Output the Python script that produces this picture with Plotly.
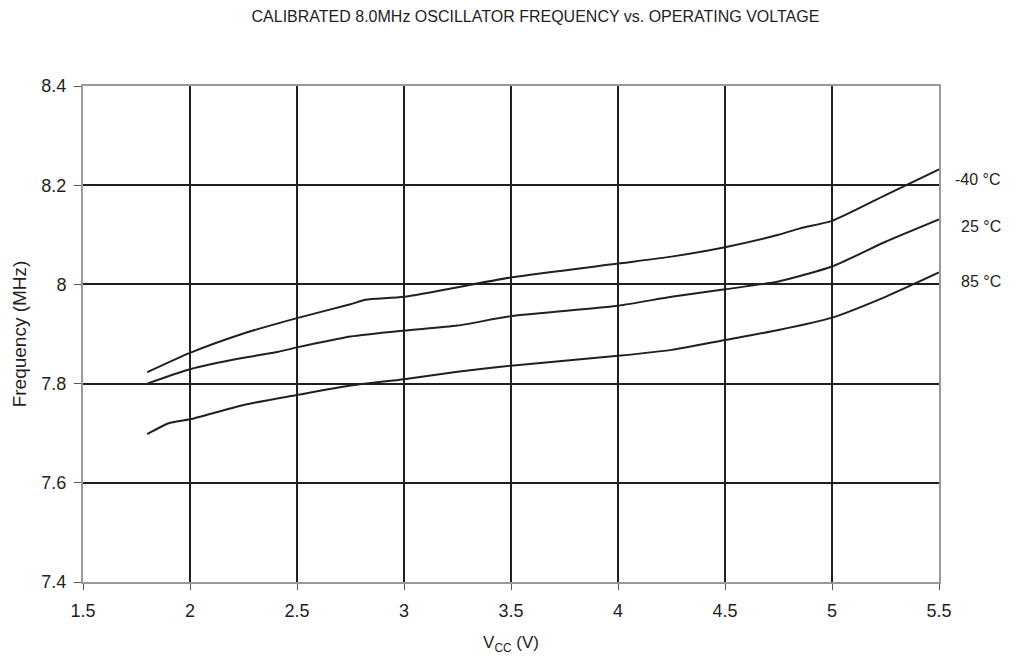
import plotly.graph_objects as go

vcc_m40 = [1.8, 2.0, 2.25, 2.5, 2.75, 2.82, 3.0, 3.5, 4.0, 4.25, 4.5, 4.75, 4.85, 5.0, 5.25, 5.5]
f_m40 = [7.823, 7.862, 7.901, 7.932, 7.960, 7.969, 7.975, 8.014, 8.042, 8.056, 8.075, 8.100, 8.113, 8.128, 8.180, 8.232]

vcc_25 = [1.8, 2.0, 2.25, 2.4, 2.5, 2.75, 3.0, 3.25, 3.5, 4.0, 4.25, 4.5, 4.75, 5.0, 5.25, 5.5]
f_25 = [7.800, 7.829, 7.852, 7.863, 7.873, 7.895, 7.907, 7.917, 7.936, 7.957, 7.975, 7.990, 8.006, 8.036, 8.086, 8.131]

vcc_85 = [1.8, 1.9, 2.0, 2.25, 2.5, 2.75, 3.0, 3.25, 3.5, 4.0, 4.25, 4.5, 4.75, 5.0, 5.25, 5.5]
f_85 = [7.698, 7.720, 7.728, 7.757, 7.777, 7.796, 7.809, 7.824, 7.836, 7.856, 7.868, 7.888, 7.908, 7.933, 7.975, 8.024]

series = [("-40 °C", vcc_m40, f_m40, 8.2125), ("25 °C", vcc_25, f_25, 8.116), ("85 °C", vcc_85, f_85, 8.005)]

x_ticks = [1.5, 2, 2.5, 3, 3.5, 4, 4.5, 5, 5.5]
y_ticks = [7.4, 7.6, 7.8, 8.0, 8.2, 8.4]
y_ticklabels = ["7.4", "7.6", "7.8", "8", "8.2", "8.4"]

FONT = "Liberation Sans, Arial, sans-serif"
INK = "#231f20"

fig = go.Figure()
for name, xs, ys, ly in series:
    fig.add_trace(go.Scatter(x=xs, y=ys, mode="lines", name=name,
                             line=dict(color=INK, width=2, shape="spline", smoothing=0.6)))
    fig.add_annotation(x=1.0748, xref="paper", y=ly, yref="y", text=name, showarrow=False,
                       xanchor="right", yanchor="middle",
                       font=dict(family=FONT, size=16, color=INK))

axis_font = dict(family=FONT, size=18, color=INK)
fig.update_layout(
    width=1018, height=660,
    margin=dict(l=83, r=79, t=86, b=78),
    paper_bgcolor="white", plot_bgcolor="white",
    showlegend=False,
    title=dict(text="CALIBRATED 8.0MHz OSCILLATOR FREQUENCY vs. OPERATING VOLTAGE",
               x=0.526, xanchor="center", y=1 - 16 / 660, yanchor="middle",
               font=dict(family=FONT, size=16, color=INK)),
    font=dict(family=FONT, color=INK),
)
fig.update_xaxes(range=[1.5, 5.5], tickvals=x_ticks, ticktext=[str(v) for v in x_ticks],
                 showgrid=True, gridcolor=INK, gridwidth=2,
                 showline=True, linecolor="#999999", linewidth=2, mirror=True,
                 ticks="outside", ticklen=6, tickcolor="#555555", tickfont=axis_font,
                 ticklabelstandoff=5,
                 zeroline=False,
                 title=dict(text="V<sub>CC</sub> (V)", font=dict(family=FONT, size=17, color=INK), standoff=17))
fig.update_yaxes(range=[7.4, 8.4], tickvals=y_ticks, ticktext=y_ticklabels,
                 showgrid=True, gridcolor=INK, gridwidth=2,
                 showline=True, linecolor="#999999", linewidth=2, mirror=True,
                 ticks="outside", ticklen=7, tickcolor="#555555", tickfont=axis_font,
                 ticklabelstandoff=4,
                 zeroline=False,
                 title=dict(text="Frequency (MHz)", font=dict(family=FONT, size=19, color=INK), standoff=10))

fig.write_html("out.html", post_script="document.body.style.margin='0px';",
               config={"displayModeBar": False})
